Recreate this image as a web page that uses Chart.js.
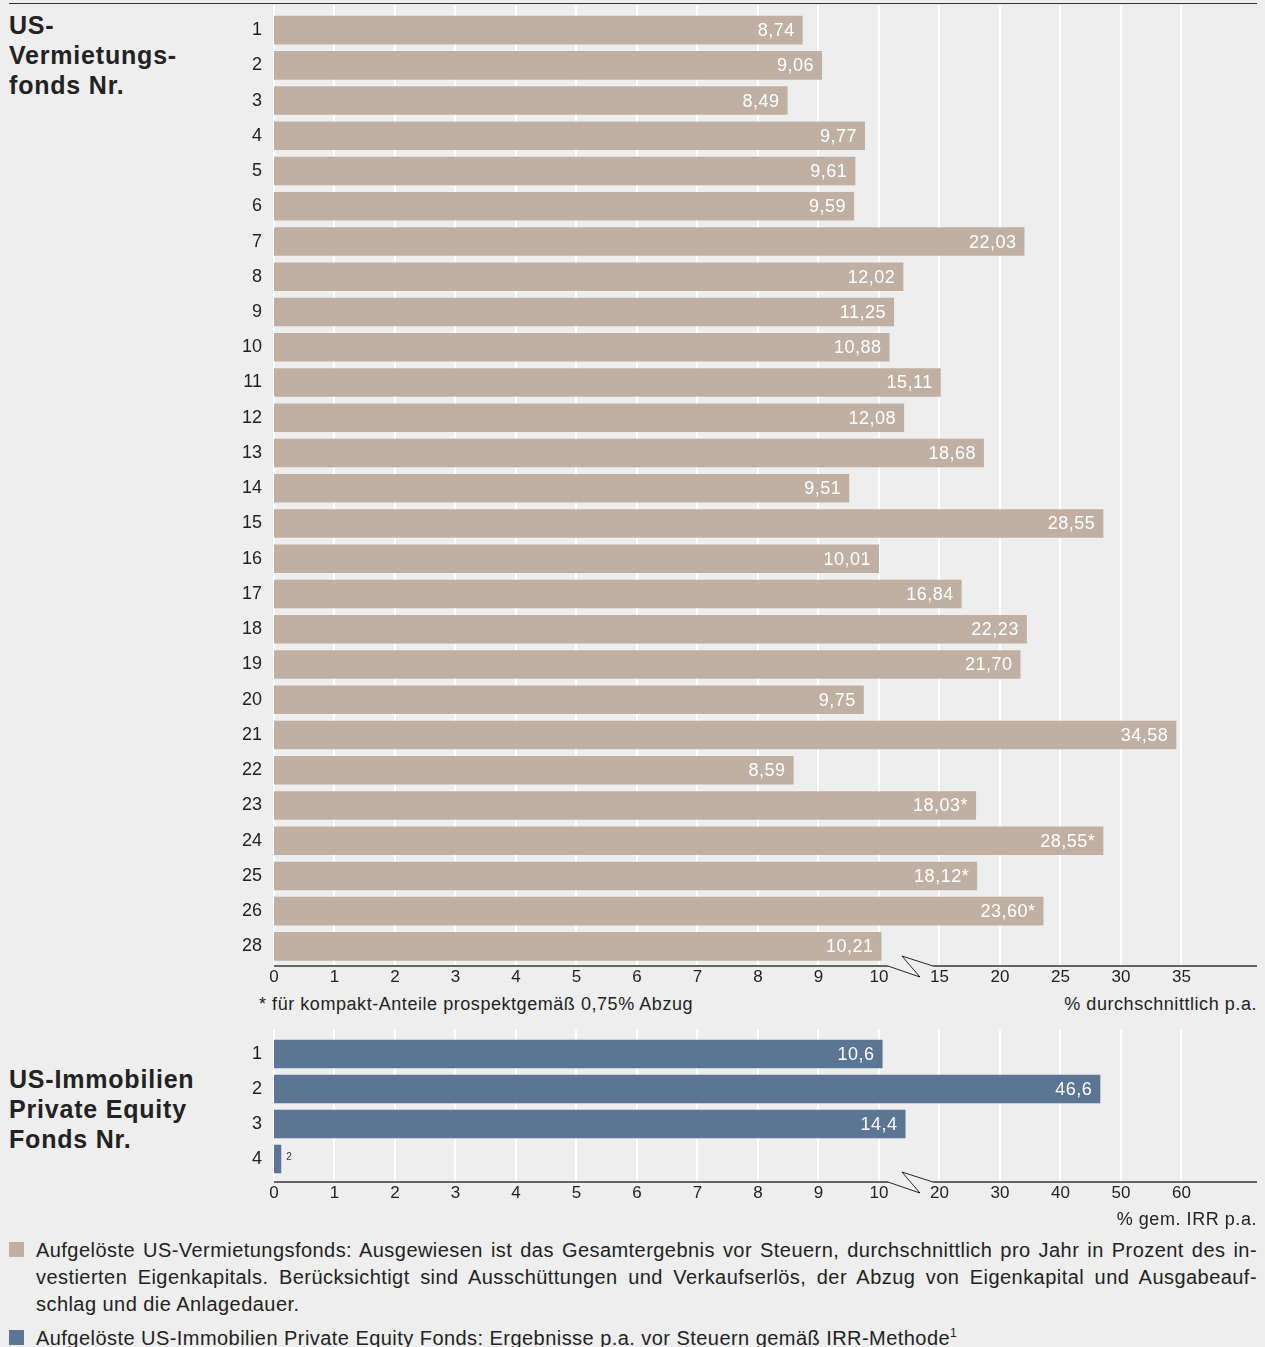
<!DOCTYPE html>
<html lang="de">
<head>
<meta charset="utf-8">
<title>Aufgelöste US-Vermietungsfonds und US-Immobilien Private Equity Fonds</title>
<script src="https://cdn.jsdelivr.net/npm/chart.js@4.4.1/dist/chart.umd.min.js"></script>
<style>
  html, body { margin: 0; padding: 0; background: #eeeeee; }
  body {
    width: 1265px; height: 1347px; position: relative; overflow: hidden;
    font-family: "Liberation Sans", Arial, Helvetica, sans-serif; color: #222;
  }
  .rule { position: absolute; left: 9px; width: 1248px; top: 3px; border-top: 1.5px solid #333; }
  .title { position: absolute; left: 9px; font-weight: bold; font-size: 25px; line-height: 30px; letter-spacing: 0.8px; }
  .box { position: absolute; left: 200px; width: 1065px; }
  .note { position: absolute; font-size: 18px; line-height: 20px; letter-spacing: 0.55px; white-space: nowrap; }
  .legend { position: absolute; left: 0; width: 1265px; font-size: 20px; line-height: 27px; letter-spacing: 0.45px; }
  .legend .swatch { position: absolute; left: 9px; top: 5.5px; width: 15px; height: 15px; }
  .legend .lines { position: absolute; left: 36px; width: 1221px; }
  .legend .j { text-align: justify; text-align-last: justify; white-space: nowrap; }
  sup { font-size: 12px; line-height: 0; vertical-align: 8px; }
</style>
</head>
<body>

<div class="rule"></div>
<div class="title" style="top:9.5px">US-<br>Vermietungs-<br>fonds Nr.</div>
<div class="title" style="top:1064px">US-Immobilien<br>Private Equity<br>Fonds Nr.</div>

<div class="box" style="top:0; height:990px"><canvas id="vermietungChart"></canvas></div>
<div class="note" style="left:259px; top:994px">* für kompakt-Anteile prospektgemäß 0,75% Abzug</div>
<div class="note" style="right:8px; top:994px">% durchschnittlich p.a.</div>

<div class="box" style="top:1010px; height:200px"><canvas id="privateEquityChart"></canvas></div>
<div class="note" style="right:8px; top:1209px">% gem. IRR p.a.</div>

<div class="legend" style="top:1236.5px">
  <span class="swatch" style="background:#bfb0a3"></span>
  <div class="lines">
    <div class="j">Aufgelöste US-Vermietungsfonds: Ausgewiesen ist das Gesamtergebnis vor Steuern, durchschnittlich pro Jahr in Prozent des in-</div>
    <div class="j">vestierten Eigenkapitals. Berücksichtigt sind Ausschüttungen und Verkaufserlös, der Abzug von Eigenkapital und Ausgabeauf-</div>
    <div>schlag und die Anlagedauer.</div>
  </div>
</div>
<div class="legend" style="top:1324.5px">
  <span class="swatch" style="background:#5d7594"></span>
  <div class="lines">Aufgelöste US-Immobilien Private Equity Fonds: Ergebnisse p.a. vor Steuern gemäß IRR-Methode<sup>1</sup></div>
</div>

<script>
// --- US-Vermietungsfonds (Nr. 27 fehlt im Original) ---
const vermietungFonds = ['1', '2', '3', '4', '5', '6', '7', '8', '9', '10', '11', '12', '13',
    '14', '15', '16', '17', '18', '19', '20', '21', '22', '23', '24', '25', '26', '28'];
const vermietungRendite = [8.74, 9.06, 8.49, 9.77, 9.61, 9.59, 22.03, 12.02, 11.25, 10.88, 15.11,
    12.08, 18.68, 9.51, 28.55, 10.01, 16.84, 22.23, 21.70, 9.75, 34.58, 8.59, 18.03, 28.55,
    18.12, 23.60, 10.21];
// '*' = kompakt-Anteile
const vermietungHinweis = ['', '', '', '', '', '', '', '', '', '', '', '', '', '', '', '', '', '',
    '', '', '', '', '*', '*', '*', '*', ''];
const vermietungTicks = [0, 1, 2, 3, 4, 5, 6, 7, 8, 9, 10, 15, 20, 25, 30, 35];

// --- US-Immobilien Private Equity Fonds ---
const peFonds = ['1', '2', '3', '4'];
const peRendite = [10.6, 46.6, 14.4, 0.12];
const peFussnote = [null, null, null, '2']; // Fonds 4: nur Fußnote statt Wert
const peTicks = [0, 1, 2, 3, 4, 5, 6, 7, 8, 9, 10, 20, 30, 40, 50, 60];

const BREAK_AT = 10;
const FONT = '"Liberation Sans", Arial, Helvetica, sans-serif';
const TEXT_COLOR = '#222';

// axis is linear up to 10, beyond that each grid step covers `stepAfter` units
function squeeze(v, stepAfter) {
    return v <= BREAK_AT ? v : BREAK_AT + (v - BREAK_AT) / stepAfter;
}

function formatDe(v, digits) {
    return v.toFixed(digits).replace('.', ',');
}

const brokenAxisPlugin = {
    id: 'brokenAxis',
    beforeDatasetsDraw(chart, args, opts) {
        const { ctx, chartArea } = chart;
        const x = chart.scales.x;
        const axisY = chartArea.bottom + opts.axisGap;
        ctx.save();
        ctx.strokeStyle = '#ffffff';
        ctx.lineWidth = 2;
        x.ticks.forEach(t => {
            const px = Math.round(x.getPixelForValue(t.value));
            ctx.beginPath();
            ctx.moveTo(px, chartArea.top - 7);
            ctx.lineTo(px, axisY);
            ctx.stroke();
        });
        ctx.restore();
    },
    afterDatasetsDraw(chart, args, opts) {
        const { ctx, chartArea } = chart;
        const x = chart.scales.x;
        const axisY = chartArea.bottom + opts.axisGap;
        const p10 = x.getPixelForValue(BREAK_AT);

        // axis line with break symbol
        ctx.save();
        ctx.strokeStyle = '#666';
        ctx.lineWidth = 2;
        ctx.beginPath();
        ctx.moveTo(chartArea.left, axisY);
        ctx.lineTo(p10 + 9, axisY);
        ctx.moveTo(p10 + 54, axisY);
        ctx.lineTo(chartArea.right, axisY);
        ctx.stroke();
        ctx.strokeStyle = '#222';
        ctx.lineWidth = 1;
        ctx.beginPath();
        ctx.moveTo(p10 + 9, axisY);
        ctx.lineTo(p10 + 41, axisY + 11);
        ctx.lineTo(p10 + 23, axisY - 10);
        ctx.lineTo(p10 + 54, axisY);
        ctx.stroke();

        // value labels
        const meta = chart.getDatasetMeta(0);
        const values = opts.values;
        ctx.textBaseline = 'middle';
        meta.data.forEach((bar, i) => {
            if (opts.footnotes && opts.footnotes[i]) {
                ctx.font = '10px ' + FONT;
                ctx.letterSpacing = '0px';
                ctx.fillStyle = '#333';
                ctx.textAlign = 'left';
                ctx.fillText(opts.footnotes[i], bar.x + 5, bar.y - 2);
                return;
            }
            const label = formatDe(values[i], opts.digits) + (opts.notes ? opts.notes[i] : '');
            ctx.font = '18px ' + FONT;
            ctx.letterSpacing = '0.5px';
            ctx.fillStyle = '#ffffff';
            ctx.textAlign = 'right';
            ctx.fillText(label, bar.x - 8, bar.y + 1);
        });
        ctx.restore();
    }
};

function makeChart(canvasId, cfg) {
    const ctx = document.getElementById(canvasId).getContext('2d');
    return new Chart(ctx, {
        type: 'bar',
        data: {
            labels: cfg.labels,
            datasets: [{
                data: cfg.values.map(v => squeeze(v, cfg.stepAfter)),
                backgroundColor: cfg.color,
                borderWidth: 0,
                barPercentage: 0.81,
                categoryPercentage: 1.0
            }]
        },
        plugins: [brokenAxisPlugin],
        options: {
            indexAxis: 'y',
            responsive: true,
            maintainAspectRatio: false,
            animation: false,
            layout: { padding: { top: cfg.padTop, right: 8, bottom: 0, left: 0 } },
            plugins: {
                legend: { display: false },
                tooltip: { enabled: false },
                brokenAxis: {
                    axisGap: cfg.axisGap,
                    values: cfg.values,
                    notes: cfg.notes,
                    footnotes: cfg.footnotes,
                    digits: cfg.digits
                }
            },
            scales: {
                x: {
                    type: 'linear',
                    min: 0,
                    max: 16.25,
                    grid: { display: false, drawTicks: false },
                    border: { display: false },
                    afterBuildTicks: scale => {
                        scale.ticks = cfg.ticks.map(v => ({ value: squeeze(v, cfg.stepAfter) }));
                    },
                    afterFit: scale => { scale.height = cfg.xHeight; },
                    ticks: {
                        autoSkip: false,
                        maxRotation: 0,
                        padding: cfg.tickPad,
                        color: TEXT_COLOR,
                        font: { family: FONT, size: 17 },
                        callback: (value, index) => String(cfg.ticks[index])
                    }
                },
                y: {
                    type: 'category',
                    grid: { display: false, drawTicks: false },
                    border: { display: false },
                    afterFit: scale => {
                        scale.width = 74;
                        scale.paddingTop = 0;
                        scale.paddingBottom = 0;
                    },
                    ticks: {
                        autoSkip: false,
                        padding: 12,
                        color: TEXT_COLOR,
                        font: { family: FONT, size: 18 }
                    }
                }
            }
        }
    });
}

makeChart('vermietungChart', {
    labels: vermietungFonds,
    values: vermietungRendite,
    notes: vermietungHinweis,
    ticks: vermietungTicks,
    stepAfter: 5,
    color: '#bfb0a3',
    digits: 2,
    padTop: 12.5,
    xHeight: 26,
    axisGap: 2,
    tickPad: 3
});

makeChart('privateEquityChart', {
    labels: peFonds,
    values: peRendite,
    footnotes: peFussnote,
    ticks: peTicks,
    stepAfter: 10,
    color: '#5d7594',
    digits: 1,
    padTop: 26.5,
    xHeight: 33.5,
    axisGap: 5.5,
    tickPad: 6.5
});
</script>
</body>
</html>
